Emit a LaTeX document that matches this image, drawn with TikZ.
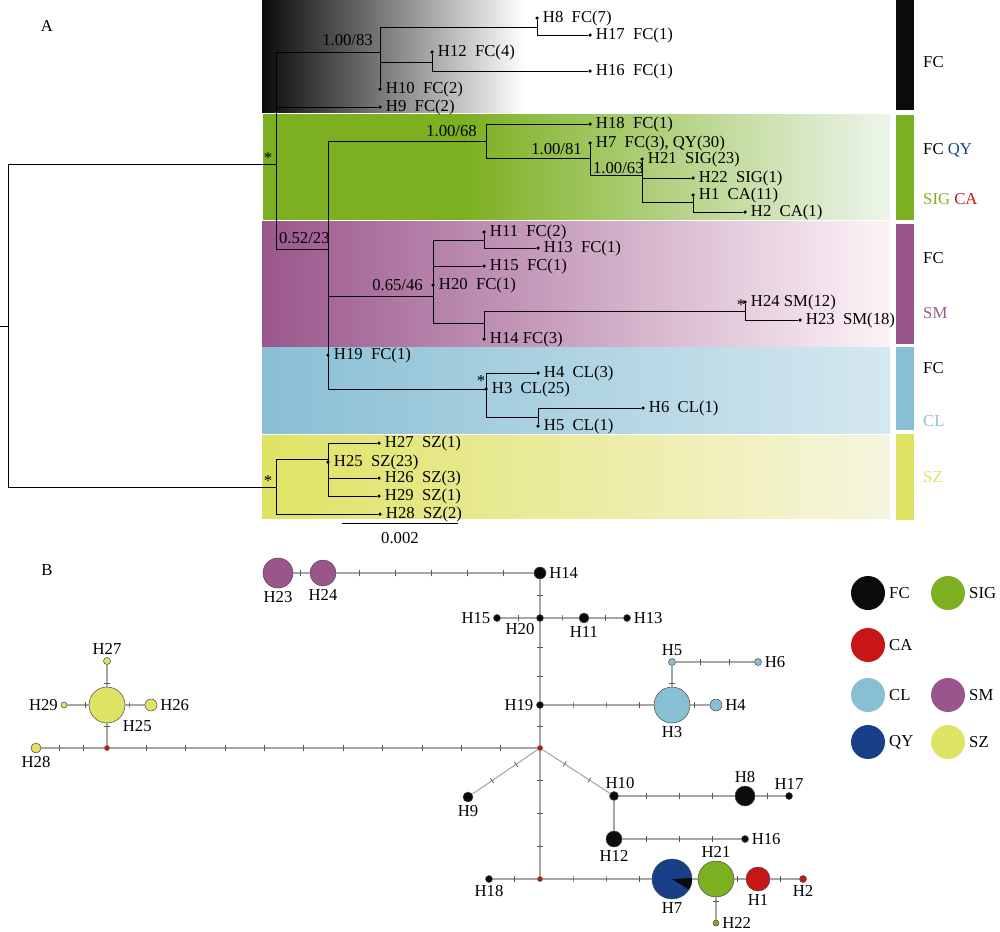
\documentclass[tikz,border=0pt]{standalone}
\usepackage{fontspec}
\setmainfont{Liberation Serif}

\definecolor{fccol}{HTML}{0B0B0B}
\definecolor{sigcol}{HTML}{7DB021}
\definecolor{cacol}{HTML}{C81616}
\definecolor{clcol}{HTML}{89BFD4}
\definecolor{smcol}{HTML}{9A568C}
\definecolor{qycol}{HTML}{183F87}
\definecolor{szcol}{HTML}{DFE363}
\definecolor{mvcol}{HTML}{D01010}
\definecolor{netgray}{HTML}{A6A6A6}
\definecolor{sigpale}{HTML}{EDF5EB}
\definecolor{smpale}{HTML}{FDF3F7}
\definecolor{clpale}{HTML}{D5E8F0}
\definecolor{szpale}{HTML}{F6F5DE}

\pgfdeclarehorizontalshading{sigband}{100bp}{color(0bp)=(sigcol); color(25bp)=(sigcol);
  color(41bp)=(sigcol); color(75bp)=(sigpale); color(100bp)=(sigpale)}

% edge of the network with #3 mutation ticks
\newcommand{\netedge}[3]{%
  \draw[netline] (#1) -- (#2);
  \ifnum#3>0
    \foreach \k in {1,...,#3}{%
      \pgfmathsetmacro{\tpos}{\k/(#3+1)}%
      \path (#1.center) -- (#2.center) node[mut,sloped,pos=\tpos] {};
    }%
  \fi}

\begin{document}
\begin{tikzpicture}[x=0.02cm,y=-0.02cm,font=\fontsize{9.5}{11}\selectfont,
  branch/.style={line width=0.5pt},
  tdot/.style={circle,fill=black,inner sep=0pt,minimum size=2pt},
  leaf/.style={label={[inner sep=2pt]right:#1}},
  netline/.style={netgray,line width=0.6pt},
  mut/.style={rectangle,draw=black!65,line width=0.4pt,minimum width=0pt,minimum height=0.12cm,inner sep=0pt},
  hap/.style={circle,draw=black!70,line width=0.3pt,inner sep=0pt,minimum size=#1*0.04cm},
  lbl/.style={inner sep=1.5pt},
  legdot/.style={circle,inner sep=0pt,minimum size=0.68cm},
  leglbl/.style={label={[label distance=0pt,inner sep=2pt]right:#1}}]
\useasboundingbox (0,0) rectangle (1000,931);

% ---------- A: tree ----------
\shade[left color=fccol, right color=white] (262,0) rectangle (525,112);
\shade[shading=sigband] (263,114) rectangle (890,219);
\shade[left color=smcol, right color=smpale] (262,221) rectangle (890,346);
\shade[left color=clcol, right color=clpale] (262,347) rectangle (890,433);
\shade[left color=szcol, right color=szpale] (262,435) rectangle (890,518);

\node at (47,26) {A};

\coordinate (tstub) at (0,326);
\coordinate (troot) at (8,326);
\coordinate (tup) at (276,164);
\coordinate (tsz) at (276,487);
\coordinate (t83) at (380,52);
\coordinate (t8) at (537,27);
\coordinate (t12) at (432,62);
\coordinate (t52) at (328,249);
\coordinate (t68) at (486,141);
\coordinate (t81) at (590,158);
\coordinate (t63) at (642,175);
\coordinate (tca) at (693,202);
\coordinate (t46) at (433,296);
\coordinate (t11) at (484,240);
\coordinate (t14) at (484,323);
\coordinate (tsm) at (745,311);
\coordinate (tcl) at (486,389);
\coordinate (t56) at (538,417);
\coordinate (t25) at (328,459);

\node[tdot,leaf={H8\ \ FC(7)}] (th8) at (537,18) {};
\node[tdot,leaf={H17\ \ FC(1)}] (th17) at (590,35) {};
\node[tdot,leaf={H12\ \ FC(4)}] (th12) at (432,52) {};
\node[tdot,leaf={H16\ \ FC(1)}] (th16) at (590,71) {};
\node[tdot,leaf={H10\ \ FC(2)}] (th10) at (380,89) {};
\node[tdot,leaf={H9\ \ FC(2)}] (th9) at (380,107) {};
\node[tdot,leaf={H18\ \ FC(1)}] (th18) at (590,124) {};
\node[tdot,leaf={H7\ \ FC(3), QY(30)}] (th7) at (590,143) {};
\node[tdot,leaf={H21\ \ SIG(23)}] (th21) at (642,159) {};
\node[tdot,leaf={H22\ \ SIG(1)}] (th22) at (693,178) {};
\node[tdot,leaf={H1\ \ CA(11)}] (th1) at (693,195) {};
\node[tdot,leaf={H2\ \ CA(1)}] (th2) at (745,212) {};
\node[tdot,leaf={H11\ \ FC(2)}] (th11) at (484,232) {};
\node[tdot,leaf={H13\ \ FC(1)}] (th13) at (538,248) {};
\node[tdot,leaf={H15\ \ FC(1)}] (th15) at (484,266) {};
\node[tdot,leaf={H20\ \ FC(1)}] (th20) at (433,285) {};
\node[tdot,leaf={H24 SM(12)}] (th24) at (745,302) {};
\node[tdot,leaf={H23\ \ SM(18)}] (th23) at (800,320) {};
\node[tdot,leaf={H14 FC(3)}] (th14) at (484,339) {};
\node[tdot,leaf={H19\ \ FC(1)}] (th19) at (328,355) {};
\node[tdot,leaf={H4\ \ CL(3)}] (th4) at (538,373) {};
\node[tdot,leaf={H3\ \ CL(25)}] (th3) at (486,389) {};
\node[tdot,leaf={H6\ \ CL(1)}] (th6) at (643,408) {};
\node[tdot,leaf={H5\ \ CL(1)}] (th5) at (538,426) {};
\node[tdot,leaf={H27\ \ SZ(1)}] (th27) at (379,443) {};
\node[tdot,leaf={H25\ \ SZ(23)}] (th25) at (328,462) {};
\node[tdot,leaf={H26\ \ SZ(3)}] (th26) at (379,478) {};
\node[tdot,leaf={H29\ \ SZ(1)}] (th29) at (379,496) {};
\node[tdot,leaf={H28\ \ SZ(2)}] (th28) at (380,514) {};

\draw[branch] (tstub) -- (troot) (troot) |- (tup) (troot) |- (tsz)
  (tup) |- (t83) (tup) |- (th9) (tup) |- (t52)
  (t83) |- (t8) (t8) -- (th8) (t8) |- (th17)
  (t83) |- (t12) (t12) -- (th12) (t12) |- (th16) (t83) -- (th10)
  (t52) |- (t68) (t68) |- (th18) (t68) |- (t81) (t81) -- (th7)
  (t81) |- (t63) (t63) -- (th21) (t63) |- (th22) (t63) |- (tca)
  (tca) -- (th1) (tca) |- (th2)
  (t52) |- (t46) (t46) |- (t11) (t11) -- (th11) (t11) |- (th13)
  (t46) |- (th15) (t46) -- (th20) (t46) |- (t14) (t14) -- (th14)
  (t14) |- (tsm) (tsm) -- (th24) (tsm) |- (th23)
  (t52) |- (th19) (t52) |- (tcl) (tcl) |- (th4) (tcl) |- (t56)
  (t56) |- (th6) (t56) -- (th5)
  (tsz) |- (t25) (tsz) |- (th28) (t25) |- (th27) (t25) |- (th26) (t25) |- (th29);

\node[anchor=east] at (379,40) {1.00/83};
\node[anchor=east] at (483,131) {1.00/68};
\node[anchor=east] at (588,149) {1.00/81};
\node[anchor=west,inner sep=1pt] at (591,168) {1.00/63};
\node[anchor=west,inner sep=1pt] at (277,238) {0.52/23};
\node[anchor=east] at (429,285) {0.65/46};
\node at (268,158) {*};
\node at (268,481) {*};
\node at (741,305) {*};
\node at (481,381) {*};

\coordinate (sb1) at (342,523);
\coordinate (sb2) at (458,523);
\draw[branch] (sb1) -- (sb2) node[midway,below=2pt] {0.002};

% group bars
\fill[fccol] (896,0) rectangle (914,110);
\fill[sigcol] (896,115) rectangle (914,220);
\fill[smcol] (896,224) rectangle (914,344);
\fill[clcol] (896,347) rectangle (914,430);
\fill[szcol] (896,434) rectangle (914,520);
\node[anchor=west] at (917,62) {FC};
\node[anchor=west] at (917,150) {FC \textcolor{qycol}{QY}};
\node[anchor=west] at (917,199) {\textcolor{sigcol}{SIG} \textcolor{cacol}{CA}};
\node[anchor=west] at (917,258) {FC};
\node[anchor=west] at (917,313) {\textcolor{smcol}{SM}};
\node[anchor=west] at (917,368) {FC};
\node[anchor=west] at (917,421) {\textcolor{clcol}{CL}};
\node[anchor=west] at (917,477) {\textcolor{szcol}{SZ}};

% ---------- B: network ----------
\node at (47,570) {B};

\node[hap=15,fill=smcol,label={[lbl]below:H23}] (nh23) at (278,573) {};
\node[hap=13,fill=smcol,label={[lbl]below:H24}] (nh24) at (323,573) {};
\node[hap=6,fill=fccol,label={[lbl]right:H14}] (nh14) at (540,573) {};
\node[hap=3.5,fill=fccol,label={[lbl]below left:H20}] (nh20) at (540,618) {};
\node[hap=3.5,fill=fccol,label={[lbl]left:H15}] (nh15) at (497,618) {};
\node[hap=5,fill=fccol,label={[lbl]below:H11}] (nh11) at (584,618) {};
\node[hap=3.5,fill=fccol,label={[lbl]right:H13}] (nh13) at (627,618) {};
\node[hap=3.5,fill=fccol,label={[lbl]left:H19}] (nh19) at (540,705) {};
\node[hap=18,fill=clcol,label={[lbl]below:H3}] (nh3) at (672,705) {};
\node[hap=6,fill=clcol,label={[lbl]right:H4}] (nh4) at (716,705) {};
\node[hap=3.5,fill=clcol,label={[lbl]above:H5}] (nh5) at (672,662) {};
\node[hap=3.5,fill=clcol,label={[lbl]right:H6}] (nh6) at (758,662) {};
\node[hap=2.5,fill=mvcol] (mv1) at (107,748) {};
\node[hap=2.5,fill=mvcol] (mv2) at (540,748) {};
\node[hap=2.5,fill=mvcol] (mv3) at (540,879) {};
\node[hap=5,fill=szcol,label={[lbl]below:H28}] (nh28) at (36,748) {};
\node[hap=18,fill=szcol,label={[lbl]below right:H25}] (nh25) at (107,705) {};
\node[hap=3.5,fill=szcol,label={[lbl]above:H27}] (nh27) at (107,661) {};
\node[hap=3,fill=szcol,label={[lbl]left:H29}] (nh29) at (64,705) {};
\node[hap=6,fill=szcol,label={[lbl]right:H26}] (nh26) at (151,705) {};
\node[hap=5,fill=fccol,label={[lbl]below:H9}] (nh9) at (468,797) {};
\node[hap=4.5,fill=fccol,label={[lbl,xshift=0.12cm]above:H10}] (nh10) at (614,796) {};
\node[hap=10,fill=fccol,label={[lbl]above:H8}] (nh8) at (745,796) {};
\node[hap=3.5,fill=fccol,label={[lbl]above:H17}] (nh17) at (789,796) {};
\node[hap=8,fill=fccol,label={[lbl]below:H12}] (nh12) at (614,839) {};
\node[hap=3.5,fill=fccol,label={[lbl]right:H16}] (nh16) at (745,839) {};
\node[hap=3.5,fill=fccol,label={[lbl]below:H18}] (nh18) at (489,879) {};
\node[hap=20,fill=qycol,label={[lbl]below:H7}] (nh7) at (672,879) {};
\node[hap=18,fill=sigcol,label={[lbl]above:H21}] (nh21) at (716,879) {};
\node[hap=12,fill=cacol,label={[lbl]below:H1}] (nh1) at (758,879) {};
\node[hap=3.5,fill=cacol,label={[lbl]below:H2}] (nh2) at (803,879) {};
\node[hap=3,fill=sigcol,label={[lbl]right:H22}] (nh22) at (716,923) {};
\fill[fccol] (nh7.center) -- ++(-32:0.4cm) arc[start angle=-32,end angle=3,radius=0.4cm] -- cycle;

\netedge{nh23}{nh24}{1}
\netedge{nh24}{nh14}{5}
\netedge{nh14}{nh20}{1}
\netedge{nh20}{nh15}{1}
\netedge{nh20}{nh11}{1}
\netedge{nh11}{nh13}{1}
\netedge{nh20}{nh19}{2}
\netedge{nh19}{mv2}{1}
\netedge{nh19}{nh3}{3}
\netedge{nh3}{nh4}{1}
\netedge{nh3}{nh5}{1}
\netedge{nh5}{nh6}{2}
\netedge{mv2}{mv1}{10}
\netedge{mv1}{nh28}{2}
\netedge{mv1}{nh25}{1}
\netedge{nh25}{nh27}{1}
\netedge{nh25}{nh29}{1}
\netedge{nh25}{nh26}{1}
\netedge{mv2}{nh9}{2}
\netedge{mv2}{nh10}{2}
\netedge{mv2}{mv3}{3}
\netedge{nh10}{nh8}{3}
\netedge{nh8}{nh17}{1}
\netedge{nh10}{nh12}{0}
\netedge{nh12}{nh16}{3}
\netedge{mv3}{nh18}{1}
\netedge{mv3}{nh7}{3}
\netedge{nh7}{nh21}{0}
\netedge{nh21}{nh1}{1}
\netedge{nh1}{nh2}{1}
\netedge{nh21}{nh22}{1}

% legend
\node[legdot,fill=fccol,leglbl=FC] (lgfc) at (868,593) {};
\node[legdot,fill=sigcol,leglbl=SIG] (lgsig) at (948,593) {};
\node[legdot,fill=cacol,leglbl=CA] (lgca) at (868,645) {};
\node[legdot,fill=clcol,leglbl=CL] (lgcl) at (868,695) {};
\node[legdot,fill=smcol,leglbl=SM] (lgsm) at (948,695) {};
\node[legdot,fill=qycol,leglbl=QY] (lgqy) at (868,742) {};
\node[legdot,fill=szcol,leglbl=SZ] (lgsz) at (948,742) {};
\end{tikzpicture}
\end{document}
